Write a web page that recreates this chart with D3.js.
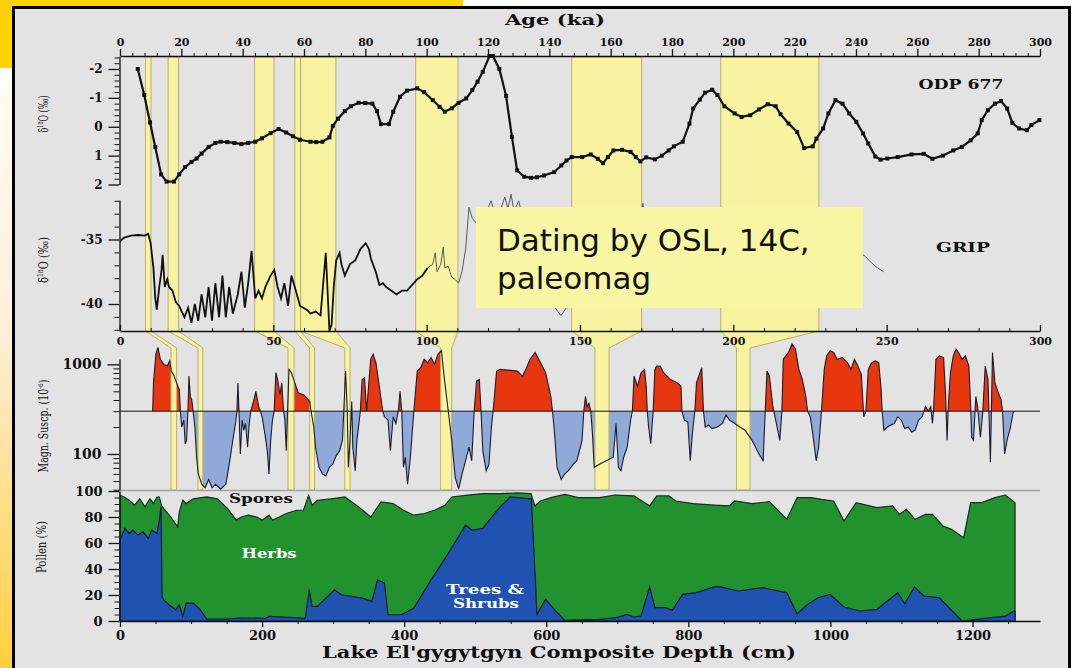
<!DOCTYPE html>
<html>
<head>
<meta charset="utf-8">
<script src="https://cdn.jsdelivr.net/npm/d3@7"></script>
<style>
  html, body { margin: 0; padding: 0; background: #fff; overflow: hidden; }
</style>
</head>
<body>
<script>
'use strict';

// ── tick values ─────────────────────────────────────────────────────────────
const ageTicks = d3.range(0, 301, 20);
const gripAgeTicks = [0, 50, 100, 150, 200, 250, 300];
const depthTicks = [0, 200, 400, 600, 800, 1000, 1200];
const odpTicks = [-2, -1, 0, 1, 2];
const gripTicks = [-35, -40];
const magTicks = [100, 1000];
const pollenTicks = [0, 20, 40, 60, 80, 100];

// ── tie points: age bands (ka) and the matching depth bands (cm) ──────────
const bandAgeFrom   = [8.3, 15.7, 43.9, 57.0, 58.9, 96.4, 147.3, 195.9];
const bandAgeTo     = [10.1, 19.1, 50.2, 58.9, 70.4, 110.2, 170.1, 227.9];
const bandDepthFrom = [71.8, 109.8, 236.5, 266.9, 316.4, 451.4, 668.6, 867.8];
const bandDepthTo   = [79.7, 116.6, 245.0, 273.8, 323.8, 466.9, 688.3, 886.8];

// ── ODP 677 benthic d18O [age ka, permil] ──────────────────────────────────
const odpRecord = [
  [5.8,-2.0],[7.9,-1.1],[9.8,-0.15],[11.5,0.7],[13.4,1.65],[15.2,1.9],[17.6,1.9],[19.3,1.65],
  [21.2,1.4],[23.3,1.22],[25.0,1.1],[26.6,0.93],[28.9,0.7],[31.1,0.56],[32.8,0.52],[35.0,0.53],
  [37.3,0.56],[39.6,0.6],[41.8,0.56],[44.1,0.52],[46.3,0.4],[49.1,0.22],[51.7,0.08],[54.2,0.2],
  [56.4,0.33],[58.7,0.45],[62.1,0.52],[64.0,0.53],[66.0,0.52],[68.3,0.37],[69.4,-0.03],[71.1,-0.28],
  [73.3,-0.54],[75.3,-0.71],[77.8,-0.83],[80.0,-0.82],[82.3,-0.8],[83.8,-0.54],[85.1,-0.09],[87.7,-0.09],
  [89.1,-0.52],[91.3,-1.04],[93.6,-1.25],[96.9,-1.33],[99.2,-1.2],[102.0,-0.92],[104.2,-0.69],[105.9,-0.52],
  [108.2,-0.64],[110.4,-0.83],[112.9,-0.98],[114.9,-1.27],[116.6,-1.56],[118.3,-1.9],[120.5,-2.45],[121.6,-2.45],
  [123.7,-2.0],[125.9,-1.07],[127.8,0.35],[129.5,1.51],[131.8,1.73],[134.0,1.77],[136.0,1.75],[138.2,1.69],
  [141.6,1.57],[143.9,1.34],[145.6,1.17],[147.3,1.05],[150.7,1.05],[153.5,0.96],[155.8,1.11],[157.5,1.26],
  [159.1,1.05],[160.9,0.82],[163.7,0.8],[166.5,0.87],[168.2,1.05],[169.7,1.2],[171.6,1.06],[174.4,1.13],
  [176.7,1.0],[178.9,0.82],[180.6,0.68],[183.5,0.52],[185.7,-0.11],[186.9,-0.63],[189.1,-0.94],[190.8,-1.18],
  [193.1,-1.28],[194.8,-1.1],[197.1,-0.71],[200.4,-0.46],[202.7,-0.34],[205.5,-0.4],[208.4,-0.6],[211.2,-0.78],
  [213.8,-0.71],[215.4,-0.43],[218.0,-0.11],[220.8,0.18],[223.1,0.74],[225.9,0.68],[227.1,0.41],[229.3,0.06],
  [231.0,-0.46],[233.3,-0.92],[235.6,-0.8],[237.8,-0.46],[240.1,-0.17],[242.3,0.23],[244.0,0.58],[246.3,1.03],
  [248.0,1.14],[250.2,1.1],[253.6,1.05],[258.1,0.96],[262.1,0.94],[264.9,1.11],[268.3,1.0],[271.7,0.82],
  [274.5,0.7],[277.4,0.47],[279.7,0.23],[281.0,-0.23],[283.0,-0.57],[285.3,-0.8],[287.3,-0.89],[289.3,-0.63],
  [291.0,-0.13],[293.2,0.06],[295.7,0.12],[297.2,-0.06],[299.8,-0.23]
];

// ── GRIP ice core d18O [age ka, permil] ────────────────────────────────────
const gripRecord = [
  [0.0,-35.15],[1.35,-34.85],[3.6,-34.7],[5.8,-34.65],[8.1,-34.7],[9.2,-34.56],[10.0,-35.3],[10.9,-37.2],
  [11.5,-39.56],[12.0,-40.44],[12.8,-38.68],[13.5,-37.5],[13.9,-36.18],[14.6,-38.68],[15.4,-38.09],[16.0,-38.68],
  [17.1,-38.97],[18.2,-39.85],[19.3,-40.15],[21.0,-41.03],[22.2,-40.29],[23.3,-41.47],[24.4,-40.0],[25.5,-41.3],
  [26.6,-39.26],[27.8,-41.03],[28.9,-38.68],[30.0,-41.3],[31.1,-38.38],[32.3,-41.03],[33.4,-37.8],[34.5,-41.03],
  [35.6,-38.68],[36.8,-40.74],[38.4,-39.26],[39.6,-37.5],[40.7,-40.29],[41.8,-38.38],[42.9,-35.88],[44.1,-39.56],
  [45.2,-38.97],[46.3,-39.56],[47.4,-38.68],[49.1,-37.8],[50.3,-37.35],[51.4,-38.68],[52.5,-39.56],[53.6,-38.38],
  [54.8,-40.15],[55.9,-37.8],[57.0,-38.68],[58.7,-40.15],[59.8,-40.29],[60.9,-40.44],[62.1,-40.74],[63.8,-40.59],
  [65.4,-40.88],[67.1,-36.03],[68.3,-42.1],[69.0,-41.6],[69.7,-38.68],[70.5,-36.62],[71.6,-36.03],[72.2,-36.91],
  [73.3,-37.8],[75.0,-36.91],[76.7,-36.62],[78.4,-35.74],[80.1,-35.29],[81.2,-35.74],[81.8,-36.47],[83.4,-37.5],
  [84.6,-38.53],[85.7,-38.38],[86.8,-38.68],[88.5,-38.97],[90.2,-39.26],[91.9,-38.97],[93.6,-38.97],[95.2,-38.53],
  [96.9,-38.09],[98.6,-37.8],[100.3,-37.2],[102.0,-36.91],[102.8,-36.03],[103.4,-37.5],[104.6,-36.91],[105.4,-35.59],
  [105.9,-37.2],[107.0,-37.06],[108.2,-37.94],[109.3,-38.09],[110.4,-38.38],[111.5,-37.5],[112.7,-35.74],[113.8,-32.5],
  [114.9,-33.38],[116.0,-33.68],[117.2,-32.8],[119.0,-33.2],[121.0,-32.0],[123.0,-33.5],[125.5,-31.7],[126.5,-32.6],
  [127.5,-31.5],[128.5,-32.8],[130.0,-32.0],[131.0,-33.0],[133.0,-34.0],[135.0,-36.0],[138.0,-38.5],[141.0,-40.0],
  [143.8,-40.9],[147.0,-39.8],[150.0,-39.5],[155.0,-39.0],[160.0,-38.5],[165.0,-37.0],[168.0,-35.0],[170.5,-32.2],
  [172.0,-35.0],[176.0,-36.5],[180.0,-37.0],[185.0,-36.0],[190.0,-35.0],[195.0,-35.5],[200.0,-37.0],[205.0,-36.0],
  [210.0,-34.5],[215.0,-36.0],[220.0,-37.5],[225.0,-36.5],[230.0,-35.0],[235.0,-34.8],[238.0,-35.5],[241.0,-36.0],
  [243.0,-36.3],[245.0,-36.8],[247.0,-37.2],[249.0,-37.5]
];

// ── Magnetic susceptibility [depth cm, SI 1e-6] ────────────────────────────
const magBaseline = 300;
const magnSusc = [
  [46,300],[47.1,620],[50.5,1298],[53.4,1544],[56.8,1139],[61.7,1000],[66.5,957],[69.9,1091],[72.3,840],[76.2,738],
  [79.6,620],[83.5,521],[85,300],[86.9,200],[89.8,239],[91.8,130],[93.7,142],[95.6,300],[97.1,738],[99,438],[101,402],
  [102.9,300],[105.4,200],[107.8,92],[110.2,60],[115.1,46],[119.9,42],[124.8,52],[129.6,42],[134.5,46],[141.8,40.5],
  [149,46],[151.5,60],[155.3,92],[158.7,142],[162.6,219],[164.6,300],[166,620],[167.5,300],[169.4,100],[171.9,239],
  [174.3,184],[176.7,219],[179.6,119],[181.5,200],[184,300],[187.9,385],[191.3,499],[195.2,338],[197.6,300],[200,260],
  [203.9,169],[207.3,109],[209.7,60],[212.1,142],[214.6,239],[217,300],[219.4,805],[221.9,676],[225.2,458],[227.7,620],
  [230.1,310],[232.1,239],[234,109],[235.9,300],[237.9,878],[241.3,805],[246.1,620],[251,478],[258.3,458],[263.1,420],
  [267,385],[268.9,300],[272.8,200],[275.2,119],[280.1,71],[284.9,60],[289.8,57],[294.7,71],[299.5,77],[304.4,96],
  [309.2,109],[313.1,142],[315,300],[317.5,840],[319.9,300],[321.4,71],[323.8,142],[326.2,385],[327.7,119],[331.1,65],
  [333.5,142],[338.3,300],[340.8,676],[344.2,706],[347.1,300],[349.5,521],[352.9,1139],[356.3,1298],[360.2,1044],
  [365,569],[369.9,300],[372.3,260],[377.2,239],[380.6,109],[384.5,260],[388.3,219],[391.7,300],[394.2,499],[396.6,300],
  [399,71],[401.5,92],[404.8,46],[408.7,92],[413.6,300],[418.4,840],[423.3,917],[428.1,1139],[433,1044],[437.9,1190],
  [442.7,1000],[447.6,1298],[452.4,1416],[457.3,620],[462.1,300],[467,142],[471.8,55],[476.7,40.5],[481.5,60],[486.4,84],
  [491.2,119],[495.1,84],[498.5,300],[501.9,648],[505.8,676],[508.2,300],[510.7,109],[515.5,65],[519.4,77],[522.8,200],
  [525.2,300],[530.1,840],[534.9,878],[559.2,840],[566.5,738],[571.3,878],[577.1,1139],[584.4,1356],[591.8,1044],
  [599.1,805],[606.4,438],[608.8,300],[611.3,184],[615.2,71],[621.1,52],[626,60],[630.8,65],[638.2,77],[643,84],
  [645.5,100],[650.4,142],[652.8,300],[655.2,438],[657.7,338],[660.1,368],[662.6,300],[665,169],[667.5,71],[674.8,77],
  [684.5,84],[694.3,92],[698.2,219],[701.6,71],[705.1,65],[709,92],[713.9,119],[718.7,239],[721.2,300],[723.6,738],
  [728.5,569],[733.4,805],[738.3,878],[740.7,569],[742.2,300],[744.1,200],[747.1,130],[750.5,300],[752.9,878],
  [755.4,957],[760.3,957],[765.1,805],[770,738],[774.9,676],[779.8,648],[784.7,620],[789.6,569],[791,300],[794.4,239],
  [799.3,228],[802.7,84],[805.7,169],[809.1,300],[811.5,620],[816.4,805],[818.9,917],[821.3,300],[823.7,200],
  [828.6,210],[833.5,192],[840.8,200],[848.2,219],[853,272],[857.9,239],[865.3,219],[872.6,200],[879.9,184],
  [889.7,142],[899.4,100],[905.3,84],[908.2,300],[910.7,840],[914.1,738],[919,338],[923.9,219],[928.7,142],
  [931.7,300],[933.6,1139],[941,1356],[945.9,1684],[950.7,1479],[955.6,878],[960.5,676],[965.4,438],[967.8,300],
  [971.7,260],[975.1,169],[980,84],[983.4,119],[987.4,300],[991.3,878],[994.7,1243],[999.6,1416],[1004.5,1356],
  [1009.3,1139],[1016.7,1190],[1024,1044],[1028.9,878],[1033.8,1139],[1038.6,957],[1043.5,771],[1046.9,260],
  [1049.9,300],[1053.3,878],[1058.2,1044],[1063.1,1091],[1068,1044],[1071.4,521],[1072.8,300],[1075.3,184],
  [1080.2,200],[1085,210],[1089.9,219],[1094.8,260],[1099.7,239],[1104.6,192],[1109.5,200],[1114.3,176],
  [1119.2,184],[1124.1,239],[1129,260],[1133.9,338],[1137.8,300],[1141.2,338],[1143.6,219],[1145.1,300],
  [1148.5,1139],[1153.4,1243],[1159.3,1190],[1162.2,438],[1164.2,142],[1166.1,368],[1169,805],[1172.9,1243],
  [1176.8,1479],[1180.3,1356],[1185.2,1139],[1190,1243],[1194.9,957],[1197.4,338],[1198.8,154],[1201.3,142],
  [1204.7,438],[1207.1,338],[1211.1,154],[1214.5,300],[1217.9,957],[1221.8,676],[1225.2,81],[1228.1,1356],
  [1231.6,620],[1236.4,478],[1240.3,402],[1242.3,300],[1245.2,100],[1248.6,142],[1253.5,200],[1256.9,284],[1258.4,300]
];

// ── Pollen: top of herbs (trees+herbs, %) and trees & shrubs (%) ───────────
const pollenUpper = [
  [0,96.7],[5.8,95.4],[13.1,92.9],[20.4,89],[27.7,94],[35,87.8],[42.3,94],[47.1,90.3],[52,95.4],[55.4,95.4],
  [58.3,89],[61.7,86.5],[71.4,80],[81.1,72.4],[83.5,84],[88.4,92.9],[93.2,90.3],[102.9,94],[122.3,95.4],[136.9,94],
  [151.5,86.5],[163.6,77.6],[170.9,80],[180.6,81.4],[192.7,80],[200,77.6],[209.7,81.4],[214.6,77.6],[224.3,80],
  [234,82.7],[248.5,85.2],[258.2,85.2],[265.5,96.7],[270.4,89],[277.7,92.9],[297.1,94],[316.5,95.4],[335.9,87.8],
  [352.9,80],[367.5,91.6],[384.5,90.3],[399,85.2],[413.6,81.4],[428.1,82.7],[442.7,85.2],[457.3,89],[467,95.4],
  [486.4,96.7],[510.7,98],[534.9,98],[559.2,98.5],[578.6,98],[584,88.5],[591.8,92.3],[606.4,94.9],[626,97.4],
  [645.5,94.9],[674.8,94.9],[696.8,96.9],[723.6,96.2],[745.6,88.5],[755.4,96.2],[772.5,96.2],[782.2,92.3],
  [806.6,90.3],[836,89.2],[857.9,88.5],[865.3,92.3],[889.7,90.3],[914.1,91.8],[938.5,78.2],[953.2,94.9],
  [972.7,94.9],[987.4,93.6],[1004.5,92.3],[1019.1,76.9],[1036.2,91],[1065.5,87.2],[1087.5,88.5],[1097.2,82],
  [1107,85.9],[1119.2,78.2],[1133.9,82],[1143.6,82],[1158.3,73.1],[1170.5,70.5],[1187.6,64.1],[1197.4,91],
  [1212,91],[1231.6,94.9],[1246.2,96.9],[1259.9,91]
];
const pollenTrees = [
  [0,62.2],[6.8,71.2],[13.1,67.3],[17.9,69.9],[25.3,66.1],[32.5,68.6],[39.8,63.5],[44.7,69.9],[52,67.3],[55.4,77.6],
  [57.8,87.8],[59.2,18.9],[61.7,16.3],[69,12.5],[78.7,8.7],[83.5,12.5],[88.4,3.6],[93.2,13.8],[102.9,13.8],[112.6,8.7],
  [122.3,1.5],[146.6,1.5],[170.9,2.3],[204.9,2],[209.7,3.6],[243.7,2.6],[260.7,2],[266.5,24],[270.4,11.2],[277.7,11.2],
  [301.9,24],[311.6,20.2],[340.8,17.6],[354.4,15.1],[362.6,31.6],[372.3,29.1],[377.2,4.8],[396.6,4.8],[413.6,9.9],
  [437.9,31.6],[462.1,52],[486.4,73.7],[496.1,69.9],[510.7,71.2],[534.9,87.8],[549.5,95.4],[573.8,94.1],[579,94],
  [587,5.1],[599.1,16.7],[611.3,9],[626,0.5],[674.8,1.3],[699.2,2.6],[713.9,5.1],[723.6,3.1],[733.4,3.8],[745.6,26.2],
  [752.9,10.3],[767.6,10.3],[777.3,8.2],[792,20.5],[811.5,21.8],[836,26.2],[845.7,26.2],[870.1,23.1],[904.3,25.6],
  [938.5,21.8],[953.2,5.6],[967.8,12.8],[982.5,17.9],[999.6,20.5],[1019.1,10.8],[1041.1,7.7],[1065.5,9],[1094.8,21.8],
  [1104.6,13.3],[1118.2,26.2],[1131.5,19.2],[1153.4,17.9],[1185.2,0],[1226.7,2.6],[1246.2,3.8],[1258.4,7.7],[1259.9,7.7]
];

// ── layout ─────────────────────────────────────────────────────────────────
const serif = '"DejaVu Serif", "Liberation Serif", serif';
const ink = '#111';
const axisX = 119.5;
const plain = d => String(d);   // hyphen minus, no thousands separator

const xAge   = d3.scaleLinear().domain([0, 300]).range([120, 1040]);
const xDepth = d3.scaleLinear().domain([0, 1295]).range([120, 1040]);
const yOdp   = d3.scaleLinear().domain([-2, 2]).range([69, 184.5]);
const yGrip  = d3.scaleLinear().domain([-35, -40]).range([239.5, 304]);
const yMag   = d3.scaleLog().domain([100, 1000]).range([454, 364.3]);
const yPol   = d3.scaleLinear().domain([0, 100]).range([621, 491]);

const svg = d3.select('body').append('svg').attr('width', 1074).attr('height', 668);
const defs = svg.append('defs');

// Fond du slide
const grad = defs.append('linearGradient').attr('id', 'sideGrad')
  .attr('x1', 0).attr('y1', 0).attr('x2', 0).attr('y2', 1);
grad.append('stop').attr('offset', '0%').attr('stop-color', '#fffdf8');
grad.append('stop').attr('offset', '45%').attr('stop-color', '#fdefd6');
grad.append('stop').attr('offset', '100%').attr('stop-color', '#ffcf3c');
svg.append('rect').attr('x', 0).attr('y', 68).attr('width', 14).attr('height', 600).attr('fill', 'url(#sideGrad)');
svg.append('rect').attr('x', 0).attr('y', 0).attr('width', 463).attr('height', 68).attr('fill', '#fed300');
svg.append('rect').attr('x', 13.5).attr('y', 7.5).attr('width', 1056).attr('height', 700)
  .attr('fill', '#e3e3e3').attr('stroke', '#000').attr('stroke-width', 3);

// Magnetic susceptibility fills (red above baseline, blue below)
const yBase = yMag(magBaseline);
defs.append('clipPath').attr('id', 'clipUp').append('rect')
  .attr('x', 0).attr('y', 0).attr('width', 1074).attr('height', yBase);
defs.append('clipPath').attr('id', 'clipDown').append('rect')
  .attr('x', 0).attr('y', yBase).attr('width', 1074).attr('height', 668 - yBase);
const magArea = d3.area().x(d => xDepth(d[0])).y0(yBase).y1(d => yMag(d[1]));
svg.append('path').datum(magnSusc).attr('d', magArea).attr('fill', '#e8360f').attr('clip-path', 'url(#clipUp)');
svg.append('path').datum(magnSusc).attr('d', magArea).attr('fill', '#8fa9d8').attr('clip-path', 'url(#clipDown)');

// Tie-point bands: age band -> slanted connector -> depth band
const yBandTop = 57, yBandJoin = 331, yBandKnee = 348, yBandBottom = 490;
bandAgeFrom.forEach((a0, i) => {
  const a1 = bandAgeTo[i], d0 = bandDepthFrom[i], d1 = bandDepthTo[i];
  const pts = [
    [xAge(a0), yBandTop], [xAge(a1), yBandTop], [xAge(a1), yBandJoin],
    [xDepth(d1), yBandKnee], [xDepth(d1), yBandBottom],
    [xDepth(d0), yBandBottom], [xDepth(d0), yBandKnee], [xAge(a0), yBandJoin]
  ];
  svg.append('polygon').attr('points', pts.join(' '))
    .attr('fill', '#f7f3a0').attr('stroke', '#b9b16c').attr('stroke-width', 1);
});

// Magn outline + baseline
svg.append('line').attr('x1', axisX).attr('x2', 1040).attr('y1', yBase).attr('y2', yBase)
  .attr('stroke', ink).attr('stroke-width', 1);
svg.append('path').datum(magnSusc)
  .attr('d', d3.line().x(d => xDepth(d[0])).y(d => yMag(d[1])))
  .attr('fill', 'none').attr('stroke', '#1b1b2b').attr('stroke-width', 1.1);
svg.append('line').attr('x1', axisX).attr('x2', 1040).attr('y1', 490.5).attr('y2', 490.5)
  .attr('stroke', '#a3a3a3').attr('stroke-width', 1.5);

// Pollen stack
const polArea = d3.area().x(d => xDepth(d[0])).y0(yPol(0)).y1(d => yPol(d[1]));
svg.append('path').datum(pollenUpper).attr('d', polArea)
  .attr('fill', '#22922f').attr('stroke', '#10301a').attr('stroke-width', 1.2);
svg.append('path').datum(pollenTrees).attr('d', polArea)
  .attr('fill', '#1f52b1').attr('stroke', '#0c1c40').attr('stroke-width', 1.2);

// ODP 677
svg.append('path').datum(odpRecord)
  .attr('d', d3.line().x(d => xAge(d[0])).y(d => yOdp(d[1])))
  .attr('fill', 'none').attr('stroke', ink).attr('stroke-width', 2.2);
svg.selectAll('.odp-mark').data(odpRecord).join('rect').attr('class', 'odp-mark')
  .attr('x', d => xAge(d[0]) - 2).attr('y', d => yOdp(d[1]) - 2)
  .attr('width', 4).attr('height', 4).attr('fill', ink);

// GRIP
const gripLine = d3.line().x(d => xAge(d[0])).y(d => yGrip(d[1]));
svg.append('path').datum(gripRecord.filter(d => d[0] <= 100.3)).attr('d', gripLine)
  .attr('fill', 'none').attr('stroke', ink).attr('stroke-width', 1.8);
svg.append('path').datum(gripRecord.filter(d => d[0] >= 100.3)).attr('d', gripLine)
  .attr('fill', 'none').attr('stroke', '#5a5a5a').attr('stroke-width', 1);

// ── axes ───────────────────────────────────────────────────────────────────
function styleAxis(g, size) {
  g.attr('font-family', serif).attr('font-size', size);
  g.selectAll('text').attr('font-family', serif).attr('font-weight', 'bold')
    .attr('font-size', size).attr('fill', ink);
  g.selectAll('line, path').attr('stroke', ink).attr('stroke-width', 1.3);
}
function minor(g, axis) {
  const m = g.append('g').call(axis);
  m.select('.domain').remove();
  m.selectAll('line').attr('stroke', ink).attr('stroke-width', 1);
}

// Age axis on top
const gTop = svg.append('g').attr('transform', 'translate(0,56)');
gTop.call(d3.axisTop(xAge).tickValues(ageTicks).tickFormat(plain).tickSize(7).tickSizeOuter(0).tickPadding(3));
styleAxis(gTop, 11);
minor(gTop, d3.axisTop(xAge).tickValues(d3.range(0, 301, 4).filter(v => v % 20)).tickSize(3).tickFormat(''));

// ODP y axis
const yOdpAxis = yOdp.copy().domain([yOdp.invert(56), 2]).range([56, yOdp(2)]);
const gOdp = svg.append('g').attr('transform', `translate(${axisX},0)`);
gOdp.call(d3.axisLeft(yOdpAxis).tickValues(odpTicks).tickFormat(plain).tickSize(11).tickSizeOuter(0).tickPadding(6));
styleAxis(gOdp, 12);
minor(gOdp, d3.axisLeft(yOdpAxis).tickValues(d3.range(-24, 21, 2).filter(v => v % 10).map(v => v / 10)).tickSize(5).tickFormat(''));

// GRIP y axis
const yGripAxis = yGrip.copy().domain([yGrip.invert(200), yGrip.invert(331)]).range([200, 331]);
const gGrip = svg.append('g').attr('transform', `translate(${axisX},0)`);
gGrip.call(d3.axisLeft(yGripAxis).tickValues(gripTicks).tickFormat(plain).tickSize(11).tickSizeOuter(0).tickPadding(6));
styleAxis(gGrip, 12);
minor(gGrip, d3.axisLeft(yGripAxis).tickValues(d3.range(-32, -42.5, -1).filter(v => v % 5)).tickSize(5).tickFormat(''));

// GRIP age axis (bottom of upper block)
const gGripX = svg.append('g').attr('transform', 'translate(0,331)');
gGripX.call(d3.axisBottom(xAge).tickValues(gripAgeTicks).tickFormat(plain).tickSize(-6).tickSizeOuter(0).tickPadding(6));
styleAxis(gGripX, 11);
minor(gGripX, d3.axisBottom(xAge).tickValues(d3.range(0, 301, 10).filter(v => v % 50)).tickSize(-3).tickFormat(''));

// Magn y axis (log)
const yMagAxis = yMag.copy().domain([yMag.invert(359), yMag.invert(490)]).range([359, 490]);
const gMag = svg.append('g').attr('transform', `translate(${axisX},0)`);
gMag.call(d3.axisLeft(yMagAxis).tickValues(magTicks).tickFormat(plain).tickSize(12).tickSizeOuter(0).tickPadding(6));
styleAxis(gMag, 14);
minor(gMag, d3.axisLeft(yMagAxis).tickValues([40, 50, 60, 70, 80, 90, 200, 300, 400, 500, 600, 700, 800, 900]).tickSize(6).tickFormat(''));

// Pollen y axis
const gPol = svg.append('g').attr('transform', `translate(${axisX},0)`);
gPol.call(d3.axisLeft(yPol).tickValues(pollenTicks).tickFormat(plain).tickSize(11).tickSizeOuter(0).tickPadding(6));
styleAxis(gPol, 13);
minor(gPol, d3.axisLeft(yPol).tickValues(d3.range(0, 101, 5).filter(v => v % 20)).tickSize(5).tickFormat(''));

// Depth axis
const gDepth = svg.append('g').attr('transform', 'translate(0,621)');
gDepth.call(d3.axisBottom(xDepth).tickValues(depthTicks).tickFormat(plain).tickSize(6).tickSizeOuter(0).tickPadding(4));
styleAxis(gDepth, 13);
minor(gDepth, d3.axisBottom(xDepth).tickValues(d3.range(0, 1291, 50).filter(v => v % 200)).tickSize(3).tickFormat(''));

// ── labels ─────────────────────────────────────────────────────────────────
function label(txt, x, y, size, len, opts = {}) {
  const t = svg.append('text').attr('x', x).attr('y', y)
    .attr('text-anchor', 'middle').attr('font-family', serif)
    .attr('font-weight', opts.weight || 'bold').attr('font-size', size)
    .attr('fill', opts.fill || ink).text(txt);
  if (len) t.attr('textLength', len).attr('lengthAdjust', 'spacingAndGlyphs');
  return t;
}
label('Age (ka)', 555, 25, 15, 100);
label("Lake El'gygytgyn Composite Depth (cm)", 559, 658, 16, 474);
label('ODP 677', 961, 89, 13, 85);
label('GRIP', 963, 252, 12, 54);
label('Spores', 261, 503, 13, 64);
label('Herbs', 269, 558, 13, 55, { fill: '#fff' });
label('Trees &', 485, 594, 12, 78, { fill: '#fff' });
label('Shrubs', 486, 608, 12, 66, { fill: '#fff' });

function yTitle(parts, cx, cy, len) {
  const t = svg.append('text')
    .attr('transform', `translate(${cx},${cy}) rotate(-90)`)
    .attr('text-anchor', 'middle').attr('font-family', serif)
    .attr('font-size', 13).attr('fill', ink)
    .attr('textLength', len).attr('lengthAdjust', 'spacingAndGlyphs');
  parts.forEach(p => {
    const s = t.append('tspan').text(p.t);
    if (p.sup) s.attr('font-size', 8).attr('dy', -5);
    if (p.down) s.attr('dy', 5);
  });
}
yTitle([{ t: 'δ' }, { t: '18', sup: true }, { t: 'O (‰)', down: true }], 48, 114, 37);
yTitle([{ t: 'δ' }, { t: '18', sup: true }, { t: 'O (‰)', down: true }], 48, 260, 46);
yTitle([{ t: 'Magn. Suscp. (10' }, { t: '-6', sup: true }, { t: ')', down: true }], 48, 426, 93);
yTitle([{ t: 'Pollen (%)' }], 46, 547, 52);

// Encadré "Dating"
svg.append('rect').attr('x', 476).attr('y', 207).attr('width', 387).attr('height', 101).attr('fill', '#f8f5a3');
const note = svg.append('text').attr('font-family', '"DejaVu Sans", Verdana, sans-serif')
  .attr('font-size', 31).attr('fill', '#111');
note.append('tspan').attr('x', 497).attr('y', 251).text('Dating by OSL, 14C,');
note.append('tspan').attr('x', 497).attr('y', 289).text('paleomag');
</script>
</body>
</html>
